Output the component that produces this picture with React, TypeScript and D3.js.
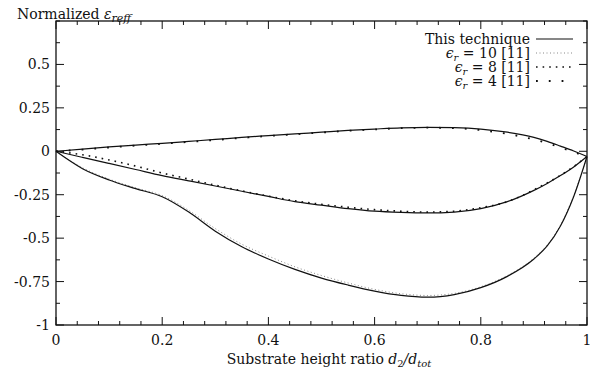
import React, { useEffect, useRef } from 'react';
import * as d3 from 'd3';

// sampled substrate height ratio d2/dtot
const ratios = [0, 0.05, 0.1, 0.15, 0.2, 0.25, 0.3, 0.35, 0.4, 0.45, 0.5, 0.55, 0.6, 0.65, 0.7, 0.75, 0.8, 0.85, 0.9, 0.925, 0.95, 0.975, 1];

// "This technique" curves
const techUpper = [0, 0.012, 0.025, 0.036, 0.046, 0.057, 0.068, 0.08, 0.09, 0.1, 0.11, 0.12, 0.128, 0.135, 0.138, 0.136, 0.128, 0.11, 0.08, 0.057, 0.03, 0.002, -0.03];
const techMiddle = [0, -0.035, -0.07, -0.105, -0.14, -0.17, -0.2, -0.23, -0.26, -0.29, -0.31, -0.33, -0.345, -0.352, -0.355, -0.35, -0.33, -0.29, -0.225, -0.185, -0.14, -0.09, -0.03];
const techLower = [0, -0.1, -0.165, -0.215, -0.262, -0.35, -0.46, -0.55, -0.62, -0.68, -0.73, -0.77, -0.805, -0.83, -0.84, -0.825, -0.785, -0.72, -0.62, -0.545, -0.43, -0.26, -0.03];

// reference [11] curves
const ref10 = [0, -0.095, -0.16, -0.21, -0.255, -0.34, -0.445, -0.535, -0.603, -0.665, -0.715, -0.758, -0.795, -0.82, -0.83, -0.818, -0.78, -0.715, -0.615, -0.54, -0.425, -0.255, -0.03];
const ref8 = [0, -0.02, -0.05, -0.085, -0.125, -0.16, -0.195, -0.228, -0.258, -0.285, -0.305, -0.322, -0.336, -0.345, -0.35, -0.345, -0.325, -0.29, -0.222, -0.182, -0.138, -0.088, -0.03];
const ref4 = [0, 0.01, 0.022, 0.033, 0.043, 0.054, 0.065, 0.077, 0.088, 0.098, 0.108, 0.118, 0.126, 0.133, 0.136, 0.133, 0.122, 0.1, 0.068, 0.047, 0.022, -0.005, -0.03];

const xTicks = [0, 0.2, 0.4, 0.6, 0.8, 1];
const xTickLabels = ['0', '0.2', '0.4', '0.6', '0.8', '1'];
const yTicks = [-1, -0.75, -0.5, -0.25, 0, 0.25, 0.5];
const yTickLabels = ['-1', '-0.75', '-0.5', '-0.25', '0', '0.25', '0.5'];

const legendEps = ['10', '8', '4'];

const FONT = "'DejaVu Serif', 'Liberation Serif', 'Times New Roman', serif";

export default function App() {
  const svgRef = useRef<SVGSVGElement>(null);

  useEffect(() => {
    const width = 595, height = 376;
    const margin = { top: 21, right: 8, bottom: 51, left: 56 };
    const innerWidth = width - margin.left - margin.right;
    const innerHeight = height - margin.top - margin.bottom;

    const svg = d3.select(svgRef.current)
      .attr('width', width)
      .attr('height', height);
    svg.selectAll('*').remove();

    const chart = svg.append('g')
      .attr('transform', `translate(${margin.left},${margin.top})`);

    const x = d3.scaleLinear().domain([0, 1]).range([0, innerWidth]);
    const y = d3.scaleLinear().domain([-1, 0.75]).range([innerHeight, 0]);

    // ticks (inward, mirrored on top and right)
    const xMinor = d3.range(0, 1.0001, 0.04);
    const yMinor = d3.range(-1, 0.7501, 0.125);
    const isMajorX = (v: number) => xTicks.some(t => Math.abs(t - v) < 1e-6);
    const isMajorY = (v: number) => yTicks.some(t => Math.abs(t - v) < 1e-6);

    const ticks = chart.append('g').attr('stroke', '#111').attr('stroke-width', 1);
    xMinor.forEach(v => {
      const len = isMajorX(v) ? 8 : 4;
      ticks.append('line').attr('x1', x(v)).attr('x2', x(v)).attr('y1', innerHeight).attr('y2', innerHeight - len);
      ticks.append('line').attr('x1', x(v)).attr('x2', x(v)).attr('y1', 0).attr('y2', len);
    });
    yMinor.forEach(v => {
      const len = isMajorY(v) ? 8 : 4;
      ticks.append('line').attr('y1', y(v)).attr('y2', y(v)).attr('x1', 0).attr('x2', len);
      ticks.append('line').attr('y1', y(v)).attr('y2', y(v)).attr('x1', innerWidth).attr('x2', innerWidth - len);
    });

    // frame
    chart.append('rect')
      .attr('width', innerWidth)
      .attr('height', innerHeight)
      .attr('fill', 'none')
      .attr('stroke', '#111')
      .attr('stroke-width', 1.3);

    // tick labels
    chart.selectAll('.xlab')
      .data(xTicks)
      .join('text')
      .attr('x', d => x(d))
      .attr('y', innerHeight + 20)
      .attr('text-anchor', 'middle')
      .attr('font-family', FONT)
      .attr('font-size', 14)
      .attr('fill', '#111')
      .text((d, i) => xTickLabels[i]);

    chart.selectAll('.ylab')
      .data(yTicks)
      .join('text')
      .attr('x', -6)
      .attr('y', d => y(d) + 5)
      .attr('text-anchor', 'end')
      .attr('font-family', FONT)
      .attr('font-size', 14)
      .attr('fill', '#111')
      .text((d, i) => yTickLabels[i]);

    // curves
    const line = d3.line<number>()
      .curve(d3.curveMonotoneX)
      .x((d, i) => x(ratios[i]))
      .y(d => y(d));

    const series = [
      { values: ref10, stroke: '#888', width: 1, dash: '1,2.5' },
      { values: ref8, stroke: '#111', width: 1.6, dash: '1.6,5' },
      { values: ref4, stroke: '#111', width: 1.8, dash: '1.8,11' },
      { values: techUpper, stroke: '#111', width: 1.2, dash: null },
      { values: techMiddle, stroke: '#111', width: 1.2, dash: null },
      { values: techLower, stroke: '#111', width: 1.2, dash: null },
    ];

    series.forEach(s => {
      chart.append('path')
        .datum(s.values)
        .attr('d', line)
        .attr('fill', 'none')
        .attr('stroke', s.stroke)
        .attr('stroke-width', s.width)
        .attr('stroke-dasharray', s.dash);
    });

    // legend
    const legendRight = 530 - margin.left;
    const sampleX1 = 536 - margin.left, sampleX2 = 573 - margin.left;
    const legendStyles = [
      { stroke: '#888', width: 1, dash: '1,2.5' },
      { stroke: '#111', width: 1.6, dash: '1.6,5' },
      { stroke: '#111', width: 1.8, dash: '1.8,11' },
    ];

    const lg = chart.append('g').attr('font-family', FONT).attr('font-size', 14).attr('fill', '#111');
    const rowY = (i: number) => 18 + i * 14;

    lg.append('text')
      .attr('x', legendRight)
      .attr('y', rowY(0) + 5)
      .attr('text-anchor', 'end')
      .text('This technique');
    lg.append('line')
      .attr('x1', sampleX1).attr('x2', sampleX2)
      .attr('y1', rowY(0)).attr('y2', rowY(0))
      .attr('stroke', '#111').attr('stroke-width', 1.2);

    legendEps.forEach((eps, i) => {
      const ty = rowY(i + 1) + 5;
      const t = lg.append('text')
        .attr('x', legendRight)
        .attr('y', ty)
        .attr('text-anchor', 'end');
      t.append('tspan').attr('font-style', 'italic').text('ϵ');
      t.append('tspan').attr('font-style', 'italic').attr('font-size', 10).attr('dy', 3).text('r');
      t.append('tspan').attr('dy', -3).text(` = ${eps} [11]`);
      const st = legendStyles[i];
      lg.append('line')
        .attr('x1', sampleX1).attr('x2', sampleX2)
        .attr('y1', rowY(i + 1)).attr('y2', rowY(i + 1))
        .attr('stroke', st.stroke)
        .attr('stroke-width', st.width)
        .attr('stroke-dasharray', st.dash);
    });

    // axis titles
    const yt = svg.append('text')
      .attr('x', 17)
      .attr('y', 19)
      .attr('font-family', FONT)
      .attr('font-size', 14)
      .attr('fill', '#111');
    yt.append('tspan').text('Normalized ');
    yt.append('tspan').attr('font-style', 'italic').text('ε');
    yt.append('tspan').attr('font-style', 'italic').attr('font-size', 11).attr('dy', 3).text('reff');

    const xt = svg.append('text')
      .attr('x', 329)
      .attr('y', 364)
      .attr('text-anchor', 'middle')
      .attr('font-family', FONT)
      .attr('font-size', 14)
      .attr('fill', '#111');
    xt.append('tspan').text('Substrate height ratio ');
    xt.append('tspan').attr('font-style', 'italic').text('d');
    xt.append('tspan').attr('font-size', 10).attr('dy', 3).text('2');
    xt.append('tspan').attr('dy', -3).attr('font-style', 'italic').text('/d');
    xt.append('tspan').attr('font-style', 'italic').attr('font-size', 10).attr('dy', 3).text('tot');
  }, []);

  return (
    <div style={{ position: 'fixed', left: 0, top: 0, background: '#fff' }}>
      <svg ref={svgRef} style={{ display: 'block' }} />
    </div>
  );
}
